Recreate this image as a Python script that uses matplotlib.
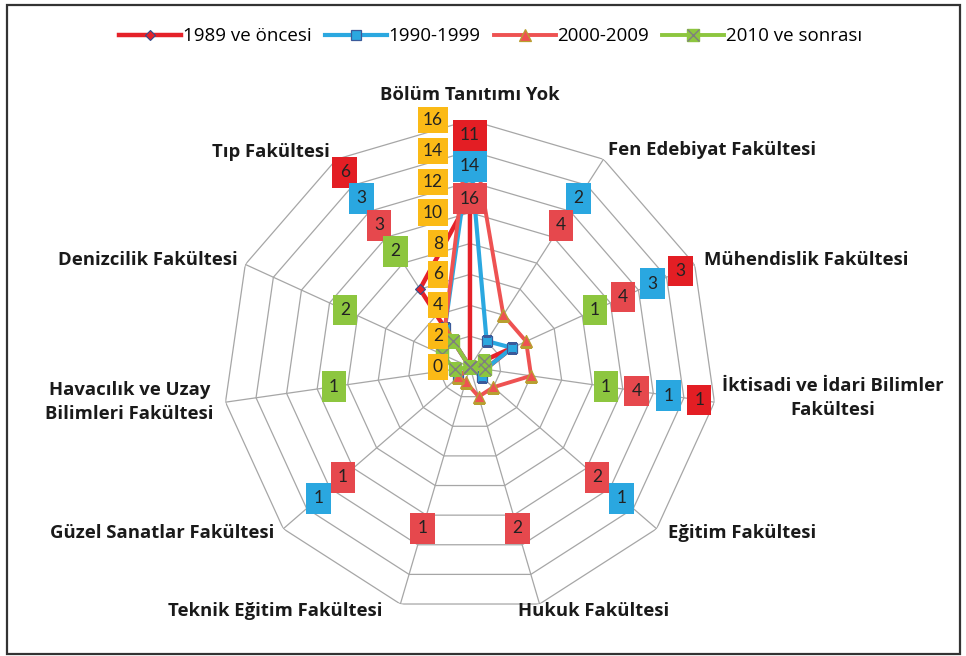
import numpy as np
import matplotlib
matplotlib.use('Agg')
import matplotlib.pyplot as plt
from matplotlib.patches import Rectangle

plt.rcParams['font.family'] = ['Open Sans', 'DejaVu Sans']

categories = ['Bölüm Tanıtımı Yok', 'Fen Edebiyat Fakültesi', 'Mühendislik Fakültesi',
              'İktisadi ve İdari Bilimler\nFakültesi', 'Eğitim Fakültesi', 'Hukuk Fakültesi',
              'Teknik Eğitim Fakültesi', 'Güzel Sanatlar Fakültesi',
              'Havacılık ve Uzay\nBilimleri Fakültesi', 'Denizcilik Fakültesi', 'Tıp Fakültesi']
series_names = ['1989 ve öncesi', '1990-1999', '2000-2009', '2010 ve sonrası']
v1989 = [11, 0, 3, 1, 0, 0, 0, 0, 0, 0, 6]
v1990 = [14, 2, 3, 1, 1, 0, 0, 1, 0, 0, 3]
v2000 = [16, 4, 4, 4, 2, 2, 1, 1, 0, 0, 3]
v2010 = [0, 0, 1, 1, 0, 0, 0, 0, 1, 2, 2]
ticks = [0, 2, 4, 6, 8, 10, 12, 14, 16]

values = [v1989, v1990, v2000, v2010]
line_colors = ['#E52129', '#2BA8E0', '#EE5252', '#8DC63F']
box_colors = ['#E31E24', '#2AA7E0', '#E6484D', '#8DC63F']
label_r = [15.0, 13.0, 10.9, 8.9]   # where Excel put the data labels

n = len(categories)
theta = np.arange(n) * 2 * np.pi / n
theta_c = np.append(theta, theta[0])

fig = plt.figure(figsize=(9.66, 6.56), dpi=100)
ax = fig.add_axes([0.2308, 0.064, 0.5114, 0.753], projection='polar')
ax.set_theta_zero_location('N')
ax.set_theta_direction(-1)
ax.set_ylim(0, 16)
ax.axis('off')

# grid: polygon rings and spokes
grid_c = '#A6A6A6'
for t in ticks[1:]:
    ax.plot(theta_c, [t] * (n + 1), color=grid_c, lw=0.9, zorder=1)
for th in theta:
    ax.plot([th, th], [0, 16], color=grid_c, lw=0.9, zorder=1)

# series
handles = []
h, = ax.plot(theta_c, v1989 + v1989[:1], color=line_colors[0], lw=3.2, marker='D',
             ms=5, mfc='#E52129', mec='#2E4E8F', mew=0.8, zorder=3)
handles.append(h)
h, = ax.plot(theta_c, v1990 + v1990[:1], color=line_colors[1], lw=3.0, marker='s',
             ms=7.5, mfc='#2BA8E0', mec='#3B5A9A', mew=0.9, zorder=3)
handles.append(h)
h, = ax.plot(theta_c, v2000 + v2000[:1], color=line_colors[2], lw=2.8, marker='^',
             ms=8, mfc='#EE5252', mec='#B8A030', mew=0.9, zorder=3)
handles.append(h)
h1, = ax.plot(theta_c, v2010 + v2010[:1], color=line_colors[3], lw=2.8, marker='s',
              ms=8, mfc='#8DC63F', mec='#8DC63F', zorder=3)
h2, = ax.plot(theta_c, v2010 + v2010[:1], ls='none', marker='x', ms=8,
              mec='#7F7F7F', mew=1.0, zorder=4)
handles.append((h1, h2))

# data labels
for vals, bc, lr in zip(values, box_colors, label_r):
    for th, v in zip(theta, vals):
        if v == 0:
            continue
        ax.text(th, lr, str(v), ha='center', va='center', fontsize=12.5,
                family=['Lato', 'DejaVu Sans'], color='#222222', zorder=6,
                bbox=dict(boxstyle='square,pad=0.42', fc=bc, ec='none'))

# radial axis labels (right-aligned boxes left of the vertical spoke)
for t in ticks:
    ax.annotate(str(t), xy=(0, t), xytext=(-27, 0), textcoords='offset pixels',
                ha='right', va='center', fontsize=12.5, family=['Lato', 'DejaVu Sans'],
                color='#222222', zorder=5,
                bbox=dict(boxstyle='square,pad=0.3', fc='#FBBA16', ec='none'))

# category labels
cat_pos = [((0, 25), 'center'), ((5, 9), 'left'), ((9, 4), 'left'), ((8, 4), 'left'),
           ((11, -4), 'left'), ((-22, -7), 'left'), ((-18, -7), 'right'),
           ((-9, -4), 'right'), ((-12, 0), 'right'), ((-8, 4), 'right'), ((-7, 7), 'right')]
for th, name, (off, ha) in zip(theta, categories, cat_pos):
    ax.annotate(name, xy=(th, 16), xytext=off, textcoords='offset pixels',
                ha=ha, va='center', multialignment='center', fontsize=13.3,
                fontweight='bold', color='#1A1A1A', linespacing=1.4,
                annotation_clip=False)

fig.legend(handles, series_names, loc='center', bbox_to_anchor=(0.508, 0.945), ncol=4,
           frameon=False, fontsize=13.5, handlelength=3.3, handletextpad=0.1,
           columnspacing=0.7)

fig.patches.append(Rectangle((7 / 966, 2 / 656), 953 / 966, 649 / 656,
                             transform=fig.transFigure, fill=False,
                             ec='#333333', lw=1.6))

fig.savefig('out.png', dpi=100)
